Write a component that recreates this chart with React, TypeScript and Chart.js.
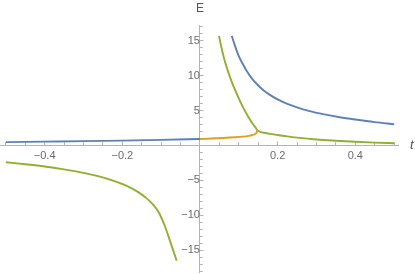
import React, { useEffect, useRef } from "react";
import { Chart, registerables } from "chart.js";

Chart.register(...registerables);

// ---- data ----
const blueLowT = [-0.5, -0.4, -0.3, -0.2, -0.1, 0];
const blueLowE = [0.48, 0.55, 0.62, 0.7, 0.8, 0.93];

const blueHighT = [0.082, 0.09, 0.1, 0.11, 0.12, 0.135, 0.15, 0.165, 0.18, 0.2, 0.225, 0.25, 0.28, 0.32, 0.36, 0.4, 0.45, 0.5];
const blueHighE = [15.7, 14.3, 12.8, 11.7, 10.7, 9.5, 8.6, 7.85, 7.25, 6.6, 5.95, 5.45, 4.95, 4.45, 4.05, 3.72, 3.35, 3.05];

const orangeT = [0, 0.03, 0.06, 0.09, 0.11, 0.125, 0.135, 0.142, 0.146, 0.148];
const orangeE = [0.93, 1.0, 1.08, 1.18, 1.27, 1.38, 1.5, 1.65, 1.85, 2.15];

const greenUpT = [0.049, 0.055, 0.062, 0.07, 0.08, 0.09, 0.1, 0.112, 0.125, 0.137, 0.144, 0.148];
const greenUpE = [15.7, 14.1, 12.5, 11.0, 9.4, 8.0, 6.75, 5.35, 4.05, 3.0, 2.5, 2.15];

const greenRightT = [0.148, 0.155, 0.165, 0.18, 0.2, 0.225, 0.25, 0.3, 0.35, 0.4, 0.45, 0.5];
const greenRightE = [2.15, 1.95, 1.82, 1.66, 1.5, 1.3, 1.13, 0.86, 0.68, 0.53, 0.41, 0.32];

const greenLeftT = [-0.5, -0.45, -0.4, -0.35, -0.3, -0.26, -0.22, -0.19, -0.16, -0.14, -0.12, -0.105, -0.09, -0.077, -0.06];
const greenLeftE = [-2.4, -2.68, -3.0, -3.42, -3.92, -4.42, -5.1, -5.75, -6.65, -7.45, -8.5, -9.7, -11.6, -13.7, -16.5];

const xTickValues = [-0.4, -0.2, 0.2, 0.4];
const xTickLabels = ["\u22120.4", "\u22120.2", "0.2", "0.4"];
const yTickValues = [-15, -10, -5, 5, 10, 15];
const yTickLabels = ["\u221215", "\u221210", "\u22125", "5", "10", "15"];

const X_MIN = -0.515;
const X_MAX = 0.51;
const Y_MIN = -18.12;
const Y_MAX = 17.26;

const BLUE = "#5E81B5";
const ORANGE = "#E19C24";
const GREEN = "#8FB032";
const AXIS = "#b3b3b3";
const LABEL = "#6b6b6b";
const FONT = '"Liberation Sans", Arial, sans-serif';

const pts = (ts: number[], es: number[]) => ts.map((t, i) => ({ x: t, y: es[i] }));

const labelFor = (vals: number[], labels: string[]) => (value: any) => {
  const v = Number(value);
  const i = vals.findIndex((a) => Math.abs(a - v) < 1e-9);
  return i >= 0 ? labels[i] : "";
};

const axisTitles = {
  id: "axisTitles",
  afterDraw(chart: any) {
    const { ctx, scales, chartArea } = chart;
    const x = scales.x;
    const y = scales.y;
    ctx.save();
    ctx.fillStyle = "#555555";
    ctx.font = `12px ${FONT}`;
    ctx.textAlign = "center";
    ctx.textBaseline = "middle";
    ctx.fillText("E", x.getPixelForValue(0), chartArea.top - 16);
    ctx.font = `italic 13px ${FONT}`;
    ctx.textAlign = "left";
    ctx.fillText("t", chartArea.right + 12, y.getPixelForValue(0));
    ctx.restore();
  },
};

const zeroFitX = (s: any) => {
  s.height = 0;
  s.paddingLeft = 0;
  s.paddingRight = 0;
};
const zeroFitY = (s: any) => {
  s.width = 0;
  s.paddingTop = 0;
  s.paddingBottom = 0;
};

export default function App() {
  const ref = useRef<HTMLCanvasElement | null>(null);

  useEffect(() => {
    if (!ref.current) return;
    const line = (data: any, color: string) => ({
      data,
      borderColor: color,
      backgroundColor: color,
      borderWidth: 1.9,
      pointRadius: 0,
      showLine: true,
      fill: false,
      cubicInterpolationMode: "monotone" as const,
    });
    const chart = new Chart(ref.current, {
      type: "scatter",
      data: {
        datasets: [
          line(pts(blueLowT, blueLowE), BLUE),
          line(pts(blueHighT, blueHighE), BLUE),
          line(pts(orangeT, orangeE), ORANGE),
          line(pts(greenUpT, greenUpE), GREEN),
          line(pts(greenRightT, greenRightE), GREEN),
          line(pts(greenLeftT, greenLeftE), GREEN),
        ],
      },
      options: {
        animation: false,
        responsive: false,
        maintainAspectRatio: false,
        layout: { padding: { left: 0, right: 17, top: 25, bottom: 2 } },
        plugins: { legend: { display: false }, tooltip: { enabled: false }, title: { display: false } },
        scales: {
          x: {
            type: "linear",
            min: X_MIN,
            max: X_MAX,
            position: { y: 0 } as any,
            afterFit: zeroFitX,
            border: { display: true, color: AXIS, width: 1 },
            grid: { display: true, drawOnChartArea: false, drawTicks: true, tickLength: -4.5, color: AXIS },
            ticks: {
              stepSize: 0.2,
              includeBounds: false,
              autoSkip: false,
              maxRotation: 0,
              padding: 8,
              color: LABEL,
              font: { family: FONT, size: 11 },
              callback: labelFor(xTickValues, xTickLabels),
            },
          },
          x2: {
            type: "linear",
            axis: "x",
            min: X_MIN,
            max: X_MAX,
            position: { y: 0 } as any,
            afterFit: zeroFitX,
            border: { display: false },
            grid: { display: true, drawOnChartArea: false, drawTicks: true, tickLength: -2.8, color: AXIS },
            ticks: { stepSize: 0.05, includeBounds: false, display: false },
          },
          y: {
            type: "linear",
            min: Y_MIN,
            max: Y_MAX,
            position: { x: 0 } as any,
            afterFit: zeroFitY,
            border: { display: true, color: AXIS, width: 1 },
            grid: { display: true, drawOnChartArea: false, drawTicks: true, tickLength: -4.5, color: AXIS },
            ticks: {
              stepSize: 5,
              includeBounds: false,
              autoSkip: false,
              padding: 8,
              color: LABEL,
              font: { family: FONT, size: 11 },
              callback: labelFor(yTickValues, yTickLabels),
            },
          },
          y2: {
            type: "linear",
            axis: "y",
            min: Y_MIN,
            max: Y_MAX,
            position: { x: 0 } as any,
            afterFit: zeroFitY,
            border: { display: false },
            grid: { display: true, drawOnChartArea: false, drawTicks: true, tickLength: -2.8, color: AXIS },
            ticks: { stepSize: 1, includeBounds: false, display: false },
          },
        },
      } as any,
      plugins: [axisTitles as any],
    });
    return () => chart.destroy();
  }, []);

  return (
    <div style={{ position: "fixed", left: 0, top: 0, width: 415, height: 274, background: "#fff" }}>
      <canvas ref={ref} width={415} height={274} style={{ display: "block" }} />
    </div>
  );
}
